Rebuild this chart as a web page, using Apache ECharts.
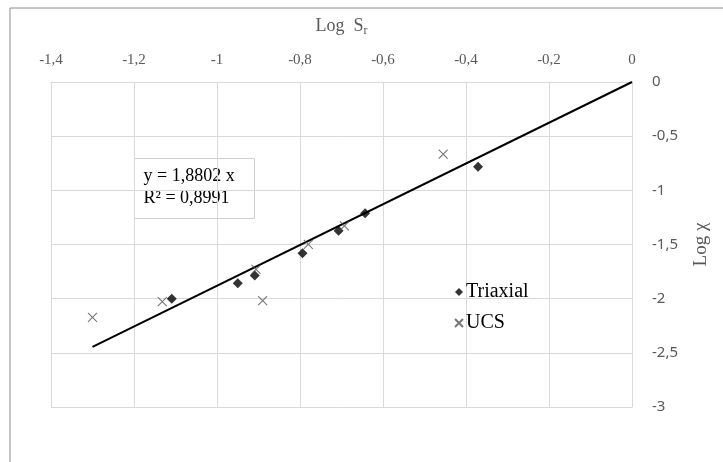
<!DOCTYPE html>
<html>
<head>
<meta charset="utf-8">
<script src="https://cdn.jsdelivr.net/npm/echarts@6/dist/echarts.min.js"></script>
<style>
  html, body { margin: 0; padding: 0; background: #fff; }
  #chart { width: 723px; height: 462px; }
</style>
</head>
<body>
<div id="chart"></div>
<script>
// Measured points: [log Sr, log χ]
const triaxial = [
  [-1.109, -2.000],
  [-0.950, -1.858],
  [-0.909, -1.785],
  [-0.794, -1.581],
  [-0.707, -1.373],
  [-0.643, -1.212],
  [-0.371, -0.782]
];
const ucs = [
  [-1.300, -2.172],
  [-1.132, -2.028],
  [-0.906, -1.729],
  [-0.890, -2.019],
  [-0.780, -1.498],
  [-0.693, -1.329],
  [-0.455, -0.665]
];
// Linear fit through the origin: y = slope * x
const slope = 1.8802;
const r2 = 0.8991;
const trendRange = [-1.300, 0];

const xTicks = { min: -1.4, max: 0, interval: 0.2 };
const yTicks = { min: -3, max: 0, interval: 0.5 };

const fmt = (v, d) => {
  const s = Number(v.toFixed(d)).toString();
  return s.replace('.', ',');
};

const trend = trendRange.map(x => [x, slope * x]);

const serif = 'Liberation Serif';
const sans = 'Noto Sans';
const gridColor = '#d9d9d9';
const textGrey = '#595959';
const crossPath = 'path://M0,0L10,10M10,0L0,10';

const chart = echarts.init(document.getElementById('chart'), null, { renderer: 'canvas' });

chart.setOption({
  animation: false,
  backgroundColor: '#fff',
  grid: { left: 51, right: 91, top: 82, bottom: 55, containLabel: false },
  xAxis: {
    type: 'value',
    position: 'top',
    min: xTicks.min, max: xTicks.max, interval: xTicks.interval,
    name: '{a|Log  S}{s|r}',
    nameLocation: 'middle',
    nameGap: 45,
    nameTextStyle: {
      rich: {
        a: { fontFamily: serif, fontSize: 18, color: textGrey },
        s: { fontFamily: serif, fontSize: 12, color: textGrey, padding: [10, 0, 0, 0] }
      }
    },
    axisLine: { show: true, onZero: false, lineStyle: { color: gridColor } },
    axisTick: { show: false },
    axisLabel: {
      margin: 14, fontFamily: serif, fontSize: 15, color: textGrey,
      formatter: v => fmt(v, 1)
    },
    splitLine: { show: true, lineStyle: { color: gridColor, width: 1 } }
  },
  yAxis: {
    type: 'value',
    position: 'right',
    min: yTicks.min, max: yTicks.max, interval: yTicks.interval,
    name: 'Log χ',
    nameLocation: 'middle',
    nameGap: 60,
    nameRotate: 90,
    nameTextStyle: { fontFamily: serif, fontSize: 19, color: textGrey },
    axisLine: { show: true, onZero: false, lineStyle: { color: gridColor } },
    axisTick: { show: false },
    axisLabel: {
      margin: 20, fontFamily: sans, fontSize: 15, color: textGrey,
      align: 'left',
      formatter: v => fmt(v, 1)
    },
    splitLine: { show: true, lineStyle: { color: gridColor, width: 1 } }
  },
  legend: {
    orient: 'vertical',
    left: 449, top: 277,
    itemGap: 11,
    itemWidth: 8, itemHeight: 8,
    textStyle: { fontFamily: serif, fontSize: 20, color: '#000', padding: [0, 0, 0, -2] },
    data: [
      { name: 'Triaxial', icon: 'diamond' },
      { name: 'UCS', icon: crossPath }
    ]
  },
  series: [
    {
      name: 'Trend',
      type: 'line',
      data: trend,
      symbol: 'none',
      lineStyle: { color: '#000', width: 2 },
      z: 3,
      silent: true
    },
    {
      name: 'Triaxial',
      type: 'scatter',
      data: triaxial,
      symbol: 'diamond',
      symbolSize: 10,
      itemStyle: { color: '#000' },
      z: 4
    },
    {
      name: 'UCS',
      type: 'scatter',
      data: ucs,
      symbol: crossPath,
      symbolSize: 9,
      itemStyle: { color: 'transparent', borderColor: '#555', borderWidth: 1.1 },
      z: 4
    }
  ],
  graphic: [
    {
      type: 'rect',
      shape: { x: 10, y: 8, width: 800, height: 600 },
      style: { fill: 'none', stroke: '#8c8c8c', lineWidth: 1 },
      silent: true, z: -1
    },
    {
      type: 'group',
      left: 134, top: 158,
      children: [
        {
          type: 'rect',
          shape: { x: 0, y: 0, width: 120, height: 60 },
          style: { fill: '#fff', stroke: '#d0d0d0', lineWidth: 1 }
        },
        {
          type: 'text',
          x: 9, y: 7,
          style: {
            text: 'y = ' + fmt(slope, 4) + ' x\nR\u00B2 = ' + fmt(r2, 4),
            fontFamily: serif, fontSize: 18, lineHeight: 22, fill: '#000'
          }
        }
      ]
    }
  ]
});
</script>
</body>
</html>
